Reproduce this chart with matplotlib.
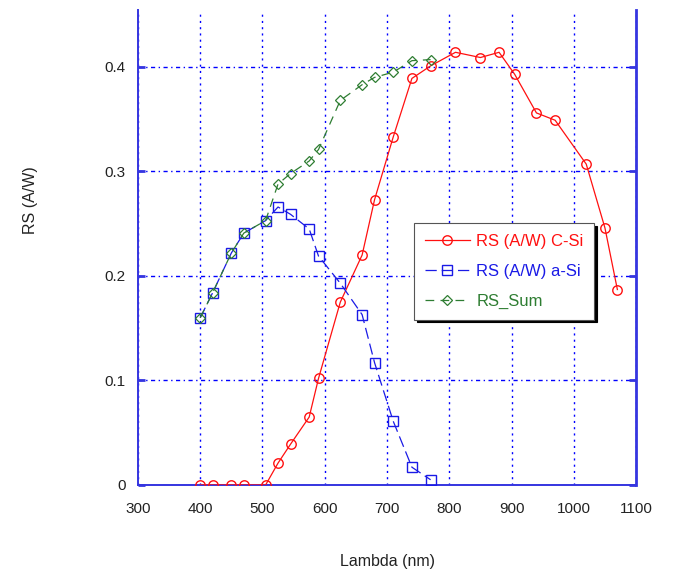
import matplotlib.pyplot as plt
from matplotlib.ticker import MultipleLocator

plt.rcParams['font.family'] = ['Liberation Sans', 'DejaVu Sans']

# wavelength (nm) and responsivity (A/W)
lam_csi = [400, 420, 450, 470, 505, 525, 545, 575, 590, 625, 660, 680, 710,
           740, 770, 810, 850, 880, 905, 940, 970, 1020, 1050, 1070]
rs_csi = [0, 0, 0, 0, 0, 0.021, 0.039, 0.065, 0.102, 0.175, 0.220, 0.273, 0.333,
          0.389, 0.401, 0.414, 0.409, 0.414, 0.393, 0.356, 0.349, 0.307, 0.246, 0.187]

lam_asi = [400, 420, 450, 470, 505, 525, 545, 575, 590, 625, 660, 680, 710, 740, 770]
rs_asi = [0.160, 0.184, 0.222, 0.241, 0.253, 0.266, 0.259, 0.245, 0.219, 0.193,
          0.163, 0.117, 0.061, 0.017, 0.005]

lam_sum = [400, 420, 450, 470, 505, 525, 545, 575, 590, 625, 660, 680, 710, 740, 770]
rs_sum = [0.160, 0.184, 0.222, 0.241, 0.253, 0.288, 0.298, 0.310, 0.321, 0.368,
          0.383, 0.390, 0.395, 0.406, 0.407]

RED = '#ff1010'
BLUE = '#1a1ae6'
GREEN = '#2e7d32'
AXC = '#3535e0'

fig = plt.figure(figsize=(6.81, 5.73), dpi=100)
ax = fig.add_axes([0.2026, 0.1536, 0.7314, 0.829])

ax.plot(lam_csi, rs_csi, color=RED, lw=0.9, marker='o', ms=6.8,
        mfc='none', mec=RED, mew=1.0, label='RS (A/W) C-Si', zorder=3)
ax.plot(lam_asi, rs_asi, color=BLUE, lw=0.9, ls=(0, (9, 4)), marker='s', ms=6.8,
        mfc='none', mec=BLUE, mew=1.0, label='RS (A/W) a-Si', zorder=4)
ax.plot(lam_sum, rs_sum, color=GREEN, lw=0.9, ls=(0, (7, 5)), marker='D', ms=4.8,
        mfc='none', mec=GREEN, mew=0.9, label='RS_Sum', zorder=5)

ax.set_xlim(300, 1100)
ax.set_ylim(0, 0.4545)
ax.xaxis.set_major_locator(MultipleLocator(100))
ax.set_yticks([0, 0.1, 0.2, 0.3, 0.4])
ax.set_yticklabels(['0', '0.1', '0.2', '0.3', '0.4'])

ax.xaxis.grid(True, color='#0000ff', ls=(0, (1.5, 3)), lw=1.0)
ax.yaxis.grid(True, color='#0000ff', ls=(0, (3, 2.5, 1, 2.5)), lw=1.0)
ax.set_axisbelow(True)

for side in ['left', 'bottom', 'right']:
    ax.spines[side].set_color(AXC)
    ax.spines[side].set_linewidth(1.4)
ax.spines['right'].set_linewidth(2.0)
ax.spines['top'].set_visible(False)

ax.tick_params(axis='y', direction='in', length=5, width=2, color=AXC,
               right=True, labelsize=11, pad=9, labelcolor='#222222')
ax.tick_params(axis='x', direction='in', length=0, labelsize=11, pad=12,
               labelcolor='#222222')

ax.set_xlabel('Lambda (nm)', fontsize=11.5, color='#222222')
ax.set_ylabel('RS (A/W)', fontsize=11.5, color='#222222')
ax.xaxis.set_label_coords(0.5, -0.145)
ax.yaxis.set_label_coords(-0.2, 0.6)

leg = ax.legend(loc='upper left', bbox_to_anchor=(0.554, 0.552), fontsize=12,
                frameon=True, fancybox=False, edgecolor='#555555',
                framealpha=1, shadow={'color': 'black', 'alpha': 1},
                handlelength=2.7, handletextpad=0.4, labelspacing=0.9,
                borderpad=0.65, borderaxespad=0)
leg.get_frame().set_linewidth(0.8)
leg.set_zorder(10)
for txt, col in zip(leg.get_texts(), [RED, BLUE, GREEN]):
    txt.set_color(col)

fig.savefig('out.png', dpi=100)
